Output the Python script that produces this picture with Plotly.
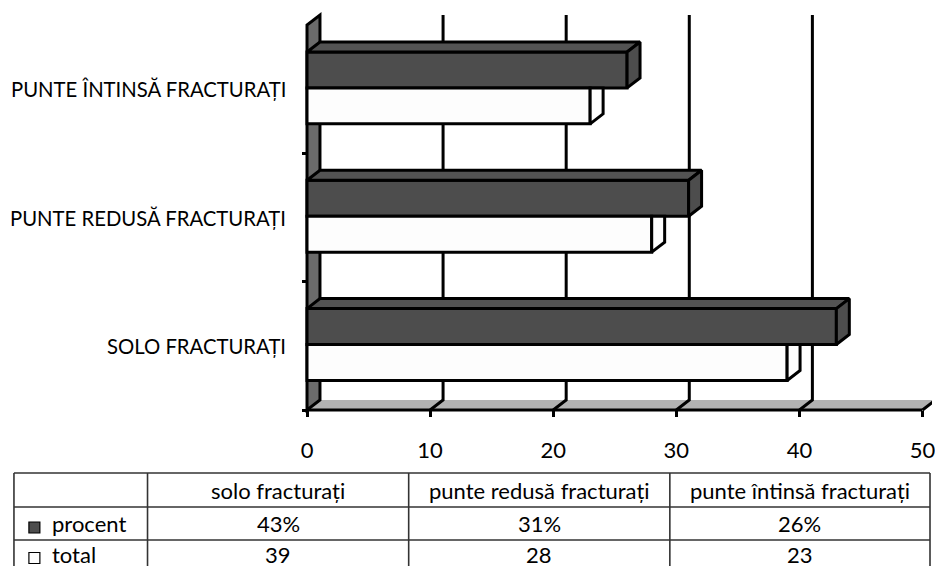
import plotly.graph_objects as go

# ---- data -------------------------------------------------------------
categories = ["solo fracturați", "punte redusă fracturați", "punte întinsă fracturați"]
procent = [43, 31, 26]
total = [39, 28, 23]
series_names = ["procent", "total"]
x_ticks = [0, 10, 20, 30, 40, 50]

# ---- geometry ---------------------------------------------------------
W, H = 935, 566
X0_PX, X_SCALE = 308, 12.35      # pixel of value 0, pixels per unit
Y0_PX, Y_SCALE = 410, 128.33     # pixel of the front floor, pixels per category band
DX = 13 / X_SCALE                # depth of the 3-D box in axis units
DY = 10 / Y_SCALE
n = len(categories)
x_max = x_ticks[-1]

x_range = [-X0_PX / X_SCALE, (W - X0_PX) / X_SCALE]
y_range = [-(H - Y0_PX) / Y_SCALE, Y0_PX / Y_SCALE]

DARK_LO, DARK_HI = 0.51, 0.79    # band fractions of the "procent" bar
WHITE_LO, WHITE_HI = 0.23, 0.51  # band fractions of the "total" bar

DARK = "#4d4d4d"
DARK_TOP = "#535353"
WHITE = "#fdfdfd"
WALL = "#6b6b6b"
FLOOR = "#b2b2b2"
FONT = "Lato"
FS = 22
LW = 3


def px(x):
    return x / W


def py(y):
    return 1 - y / H


fig = go.Figure()

# front faces of the bars
fig.add_trace(go.Bar(
    orientation="h", name=series_names[0], x=procent, base=0,
    y=[i + (DARK_LO + DARK_HI) / 2 for i in range(n)], width=DARK_HI - DARK_LO,
    marker=dict(color=DARK, line=dict(color="black", width=LW)),
    hoverinfo="skip",
))
fig.add_trace(go.Bar(
    orientation="h", name=series_names[1], x=total, base=0,
    y=[i + (WHITE_LO + WHITE_HI) / 2 for i in range(n)], width=WHITE_HI - WHITE_LO,
    marker=dict(color=WHITE, line=dict(color="black", width=LW)),
    hoverinfo="skip",
))


def face(xs, ys, color):
    fig.add_trace(go.Scatter(
        x=xs + [xs[0]], y=ys + [ys[0]], mode="lines", fill="toself",
        fillcolor=color, line=dict(color="black", width=LW),
        hoverinfo="skip", showlegend=False,
    ))


# depth faces of the bars
for i in range(n):
    # white bar: right side, its top hidden behind the dark bar
    v = total[i]
    lo, hi = i + WHITE_LO, i + WHITE_HI
    face([v, v, v + DX, v + DX], [lo, hi, hi, lo + DY], WHITE)
    # dark bar: top and right side
    v = procent[i]
    lo, hi = i + DARK_LO, i + DARK_HI
    face([0, v, v + DX, DX], [hi, hi, hi + DY, hi + DY], DARK_TOP)
    face([v, v, v + DX, v + DX], [lo, hi, hi + DY, lo + DY], DARK)

# ---- floor, side wall and back-wall grid --------------------------------
shapes = []
shapes.append(dict(
    type="path", xref="x", yref="y", layer="below",
    path=f"M 0,0 L {x_max},0 L {x_max + DX},{DY} L {DX},{DY} Z",
    fillcolor=FLOOR, line=dict(width=0),
))
shapes.append(dict(
    type="line", xref="x", yref="y", layer="below",
    x0=0, y0=0, x1=x_max, y1=0, line=dict(color="black", width=LW),
))
shapes.append(dict(
    type="path", xref="x", yref="y", layer="below",
    path=f"M 0,0 L 0,{n} L {DX},{n + DY} L {DX},{DY} Z",
    fillcolor=WALL, line=dict(color="black", width=LW),
))
for v in x_ticks[1:]:
    shapes.append(dict(
        type="path", xref="x", yref="y", layer="below",
        path=f"M {v},0 L {v + DX},{DY} L {v + DX},{n + DY}",
        line=dict(color="black", width=LW),
    ))

# ---- data table underneath ----------------------------------------------
TABLE_X = [14, 148, 410, 672, 933]
TABLE_Y = [473, 507, 540, 566]
TLINE = dict(color="#333333", width=1.6)
for yv in TABLE_Y[:-1]:
    shapes.append(dict(type="line", xref="paper", yref="paper",
                       x0=px(TABLE_X[0]), x1=px(TABLE_X[-1]), y0=py(yv), y1=py(yv), line=TLINE))
for xv in TABLE_X:
    shapes.append(dict(type="line", xref="paper", yref="paper",
                       x0=px(xv), x1=px(xv), y0=py(TABLE_Y[0]), y1=py(TABLE_Y[-1]), line=TLINE))

annotations = []
txt_font = dict(family=FONT, size=FS, color="black")
ROW_CENTER = [490.5, 523.5, 554]
ROW_BOX = [None, None, 24]       # the last row is cut by the page edge


def cell_text(text, col, row):
    xc = (TABLE_X[col] + TABLE_X[col + 1]) / 2
    annotations.append(dict(xref="paper", yref="paper", x=px(xc), y=py(ROW_CENTER[row]),
                            text=text, showarrow=False, font=txt_font, height=ROW_BOX[row],
                            xanchor="center", yanchor="middle"))


for j, cat in enumerate(categories):
    cell_text(cat, j + 1, 0)
    cell_text(f"{procent[j]}%", j + 1, 1)
    cell_text(f"{total[j]}", j + 1, 2)

# legend keys in the first column
for row, (name, color) in enumerate(zip(series_names, [DARK, WHITE]), start=1):
    yc = ROW_CENTER[row] + 4
    shapes.append(dict(type="rect", xref="paper", yref="paper",
                       x0=px(29), x1=px(40), y0=py(yc - 5.5), y1=py(yc + 5.5),
                       fillcolor=color, line=dict(color="black", width=1.2)))
    annotations.append(dict(xref="paper", yref="paper", x=px(50), y=py(ROW_CENTER[row]),
                            text=name, showarrow=False, font=txt_font, height=ROW_BOX[row],
                            xanchor="left", yanchor="middle"))

# category labels to the left of the bars
for i, cat in enumerate(categories):
    annotations.append(dict(xref="paper", yref="y", x=px(289), y=i + 0.5,
                            text=cat.upper(), showarrow=False,
                            font=dict(family=FONT, size=20.3, color="black"),
                            xanchor="right", yanchor="middle"))

fig.update_layout(
    width=W, height=H,
    margin=dict(l=0, r=0, t=0, b=0),
    paper_bgcolor="white", plot_bgcolor="white",
    barmode="overlay", showlegend=False,
    shapes=shapes, annotations=annotations,
    xaxis=dict(
        range=x_range, domain=[0, 1], anchor="free", position=(H - Y0_PX) / H,
        tickvals=x_ticks, ticks="outside", ticklen=6, tickwidth=LW, tickcolor="black",
        tickfont=txt_font, ticklabelstandoff=15, ticklabeloverflow="allow",
        showgrid=False, zeroline=False, showline=False, fixedrange=True,
    ),
    yaxis=dict(
        range=y_range, domain=[0, 1], anchor="free", position=X0_PX / W,
        tickvals=list(range(n)), ticks="outside", ticklen=5, tickwidth=LW, tickcolor="black",
        showticklabels=False, showgrid=False, zeroline=False, showline=False, fixedrange=True,
    ),
)

fig.write_html("out.html", config={"displayModeBar": False})
